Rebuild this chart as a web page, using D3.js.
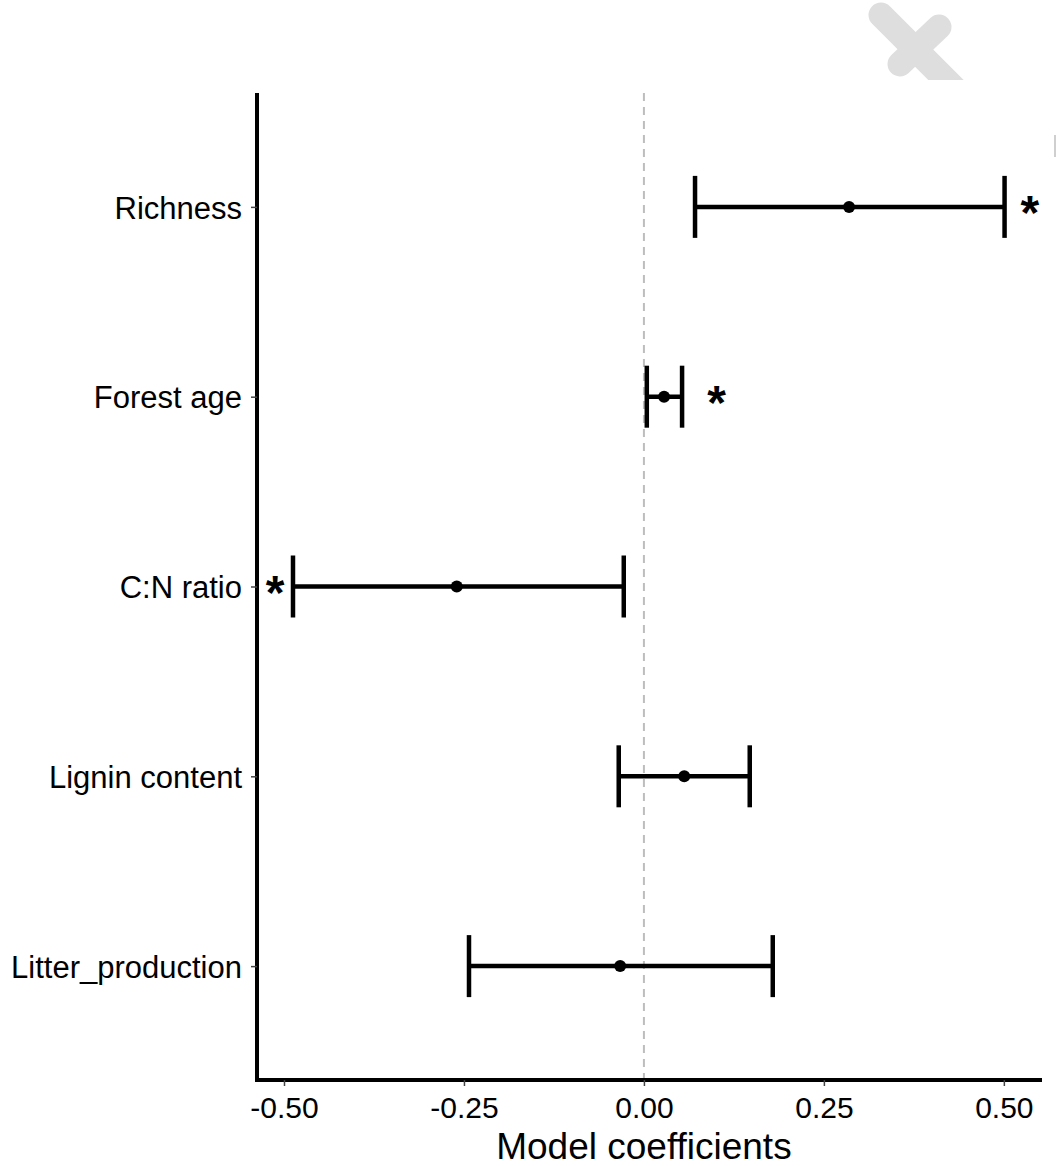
<!DOCTYPE html>
<html>
<head>
<meta charset="utf-8">
<script src="https://cdn.jsdelivr.net/npm/d3@7"></script>
<style>
  body { margin: 0; background: #fff; }
  svg { display: block; font-family: "Liberation Sans", Arial, sans-serif; }
</style>
</head>
<body>
<div id="chart"></div>
<script>
// coefficient estimates with confidence intervals
var terms = ["Richness", "Forest age", "C:N ratio", "Lignin content", "Litter_production"];
var estimate = [0.285, 0.028, -0.26, 0.056, -0.033];
var lower = [0.071, 0.004, -0.4875, -0.035, -0.243];
var upper = [0.501, 0.053, -0.028, 0.147, 0.179];
var signif = ["*", "*", "*", "", ""];
var starPos = [0.536, 0.101, -0.5125, 0, 0];
var xTicks = [-0.5, -0.25, 0, 0.25, 0.5];

var width = 1057, height = 1166;
var margin = { top: 93, right: 15, bottom: 86, left: 257 };

var svg = d3.select("#chart").append("svg")
  .attr("width", width)
  .attr("height", height);

// grey watermark cross in the corner, cut off at the top of the panel
var clip = svg.append("defs").append("clipPath").attr("id", "wm");
clip.append("rect").attr("x", 840).attr("y", 0).attr("width", 217).attr("height", 80);
var wm = svg.append("g").attr("clip-path", "url(#wm)")
  .attr("stroke", "#dedede").attr("stroke-width", 25).attr("stroke-linecap", "round");
wm.append("line").attr("x1", 881).attr("y1", 15).attr("x2", 968).attr("y2", 102);
wm.append("line").attr("x1", 939).attr("y1", 27).attr("x2", 900).attr("y2", 64);
svg.append("line").attr("x1", 1055).attr("x2", 1055).attr("y1", 135).attr("y2", 157)
  .attr("stroke", "#cfcfcf").attr("stroke-width", 2);

var x = d3.scaleLinear()
  .domain([-0.5375, 0.553])
  .range([margin.left, width - margin.right]);

var y = d3.scalePoint()
  .domain(terms)
  .range([margin.top, height - margin.bottom])
  .padding(0.6);

var rows = terms.map(function (t, i) {
  return { term: t, est: estimate[i], lo: lower[i], hi: upper[i], sig: signif[i], sx: starPos[i] };
});

// zero reference line
svg.append("line")
  .attr("x1", x(0)).attr("x2", x(0))
  .attr("y1", margin.top).attr("y2", height - margin.bottom)
  .attr("stroke", "#bdbdbd")
  .attr("stroke-width", 2)
  .attr("stroke-dasharray", "8,6");

// axes
var xAxis = svg.append("g")
  .attr("transform", "translate(0," + (height - margin.bottom) + ")")
  .call(d3.axisBottom(x).tickValues(xTicks).tickSize(6).tickSizeOuter(0)
    .tickFormat(d3.format(".2f")));
xAxis.select(".domain").attr("stroke", "#000").attr("stroke-width", 4)
  .attr("d", "M" + margin.left + ",0H" + (width - margin.right));
xAxis.selectAll(".tick line").attr("stroke", "#444").attr("stroke-width", 1.5);
xAxis.selectAll(".tick text").attr("fill", "#000").attr("font-size", 30)
  .attr("y", 17).attr("dy", "0.71em")
  .text(function (d) { return d3.format(".2f")(d).replace("−", "-"); });

var yAxis = svg.append("g")
  .attr("transform", "translate(" + margin.left + ",0)")
  .call(d3.axisLeft(y).tickSize(6).tickSizeOuter(0));
yAxis.select(".domain").attr("stroke", "#000").attr("stroke-width", 4)
  .attr("d", "M0," + margin.top + "V" + (height - margin.bottom + 2));
yAxis.selectAll(".tick line").attr("stroke", "#444").attr("stroke-width", 1.5);
yAxis.selectAll(".tick text").attr("fill", "#000").attr("font-size", 31)
  .attr("x", -15).attr("dy", "0.36em");

// x title
svg.append("text")
  .attr("x", x(0)).attr("y", 1159)
  .attr("text-anchor", "middle")
  .attr("font-size", 37)
  .text("Model coefficients");

// error bars
var g = svg.selectAll("g.bar").data(rows).enter().append("g").attr("class", "bar");
var cap = 31;

g.append("line")
  .attr("x1", function (d) { return x(d.lo); })
  .attr("x2", function (d) { return x(d.hi); })
  .attr("y1", function (d) { return y(d.term); })
  .attr("y2", function (d) { return y(d.term); })
  .attr("stroke", "#000").attr("stroke-width", 4.5);

g.append("line")
  .attr("x1", function (d) { return x(d.lo); })
  .attr("x2", function (d) { return x(d.lo); })
  .attr("y1", function (d) { return y(d.term) - cap; })
  .attr("y2", function (d) { return y(d.term) + cap; })
  .attr("stroke", "#000").attr("stroke-width", 4.5);

g.append("line")
  .attr("x1", function (d) { return x(d.hi); })
  .attr("x2", function (d) { return x(d.hi); })
  .attr("y1", function (d) { return y(d.term) - cap; })
  .attr("y2", function (d) { return y(d.term) + cap; })
  .attr("stroke", "#000").attr("stroke-width", 4.5);

g.append("circle")
  .attr("cx", function (d) { return x(d.est); })
  .attr("cy", function (d) { return y(d.term); })
  .attr("r", 6)
  .attr("fill", "#000");

// significance stars
g.filter(function (d) { return d.sig !== ""; })
  .append("text")
  .attr("x", function (d) { return x(d.sx); })
  .attr("y", function (d) { return y(d.term) + 22; })
  .attr("text-anchor", "middle")
  .attr("font-size", 48)
  .attr("font-weight", "bold")
  .text(function (d) { return d.sig; });
</script>
</body>
</html>
